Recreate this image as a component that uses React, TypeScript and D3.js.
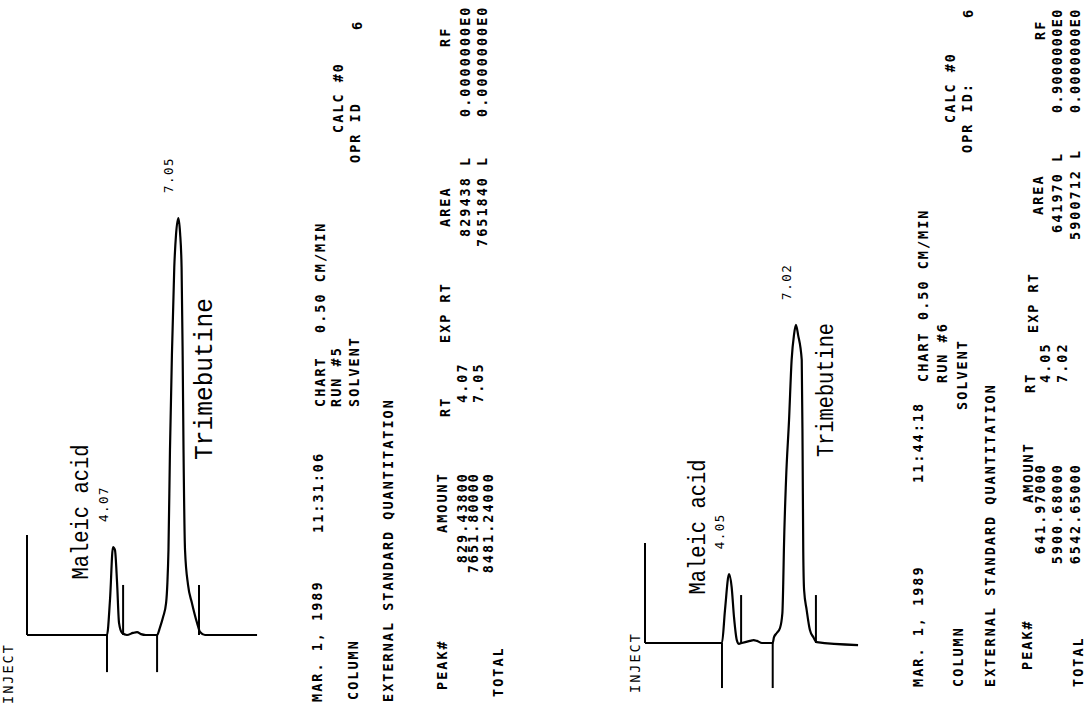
import React from "react";
import * as d3 from "d3";

// ---------------- DATA ----------------
// Run #5 trace: retention time (min) and detector signal (% of full scale)
const run1Time = [0, 3.72, 3.86, 4.0, 4.09, 4.19, 4.28, 4.42, 4.65, 4.93, 5.12, 5.3, 5.53, 6.05, 6.19, 6.33, 6.47, 6.53, 6.58, 6.65, 6.74, 6.85, 6.93, 7.04, 7.12, 7.19, 7.24, 7.28, 7.35, 7.49, 7.67, 7.91, 8.05, 8.28, 10.7];
const run1Signal = [0, 0, 8.4, 21.1, 20.4, 12.5, 2.9, 0.5, 0, 0.5, 0.7, 0.2, 0, 0, 1.9, 4.3, 7.7, 12.5, 20.4, 44.4, 67.1, 88.2, 95.9, 100, 96.4, 88.2, 67.1, 44.4, 20.4, 12.0, 7.7, 2.9, 0.7, 0, 0];
const run1DropMarks = [3.72, 6.05];
const run1EndMarks = [4.47, 8.0];
const run1MarkSizes = [24, -8.9, 12]; // inject height, drop depth, end-mark height
const run1ApexTimes = [4.0, 7.04];
const run1PeakLabels = ["4.07", "7.05"];

// Run #6 trace
const run2Time = [0, 3.58, 3.72, 3.91, 4.03, 4.14, 4.27, 4.37, 4.5, 4.88, 5.05, 5.21, 5.44, 5.94, 6.0, 6.13, 6.28, 6.39, 6.43, 6.46, 6.56, 6.7, 6.82, 6.93, 7.02, 7.12, 7.29, 7.33, 7.36, 7.4, 7.52, 7.67, 7.83, 7.99, 9.91];
const run2Signal = [0, 0, 7.9, 16.5, 13.4, 6.2, 0.7, -0.2, 0, 0.5, 0.7, 0.5, 0, 0, 1.4, 2.4, 3.6, 7.2, 14.4, 22.3, 39.1, 53.5, 67.9, 73.9, 76.3, 73.9, 67.9, 46.3, 22.3, 12.7, 7.9, 3.1, 1.4, 0.2, -0.5];
const run2DropMarks = [3.58, 5.94];
const run2EndMarks = [4.47, 7.95];
const run2MarkSizes = [24, -10.8, 11.5];
const run2ApexTimes = [3.91, 7.02];
const run2PeakLabels = ["4.05", "7.02"];

const compounds = ["Maleic acid", "Trimebutine"];
const injectLabel = "INJECT";

// Report texts
const run1Stamp = ["MAR. 1, 1989", "11:31:06", "CHART", "0.50 CM/MIN", "RUN #5", "CALC #0", "COLUMN", "SOLVENT", "OPR ID", "6"];
const run2Stamp = ["MAR. 1, 1989", "11:44:18", "CHART", "0.50 CM/MIN", "RUN #6", "CALC #0", "COLUMN", "SOLVENT", "OPR ID:", "6"];
const reportTitle = "EXTERNAL STANDARD QUANTITATION";
const tableHeaders = ["PEAK#", "AMOUNT", "RT", "EXP RT", "AREA", "RF"];
const totalLabel = "TOTAL";
const run1Amounts = ["829.43800", "7651.80000"];
const run1RTs = ["4.07", "7.05"];
const run1Areas = ["829438 L", "7651840 L"];
const run1RFs = ["0.0000000E0", "0.0000000E0"];
const run1Total = "8481.24000";
const run2Amounts = ["641.97000", "5900.68000"];
const run2RTs = ["4.05", "7.02"];
const run2Areas = ["641970 L", "5900712 L"];
const run2RFs = ["0.9000000E0", "0.0000000E0"];
const run2Total = "6542.65000";

// ---------------- LAYOUT ----------------
const MONO = "'DejaVu Sans Mono', monospace";
const SERIF_MONO = "'Liberation Mono', 'Courier New', monospace";

const panels = [
  {
    time: run1Time, signal: run1Signal, drops: run1DropMarks, ends: run1EndMarks, sizes: run1MarkSizes,
    apex: run1ApexTimes, peakLabels: run1PeakLabels,
    xRange: [27, 242], yRange: [635, 218],
    inject: [13, 704],
    names: [[88, 512, 23, 135], [212, 379, 25, 162]],
    stamp: run1Stamp,
    stampPos: [[322, 702], [323, 533], [325, 407], [325, 333], [341, 407], [343, 133], [358, 700], [359, 407], [360, 163], [362, 30]],
    titlePos: [393, 702],
    headerPos: [[447, 690], [447, 533], [450, 417], [450, 343], [450, 227], [450, 47]],
    amounts: run1Amounts, amountPos: [[467, 472], [478, 472]],
    rts: run1RTs, rtPos: [[467, 403], [483, 403]],
    areas: run1Areas, areaPos: [[470, 237], [487, 247]],
    rfs: run1RFs, rfPos: [[470, 117], [487, 117]],
    total: run1Total, totalPos: [493, 472], totalLabelPos: [503, 697],
    weight: 700,
  },
  {
    time: run2Time, signal: run2Signal, drops: run2DropMarks, ends: run2EndMarks, sizes: run2MarkSizes,
    apex: run2ApexTimes, peakLabels: run2PeakLabels,
    xRange: [645, 860], yRange: [643, 226],
    inject: [640, 693],
    names: [[705, 527, 23, 135], [833, 390, 24, 134]],
    stamp: run2Stamp,
    stampPos: [[923, 687], [923, 483], [928, 382], [928, 320], [947, 383], [955, 123], [963, 687], [967, 410], [972, 153], [973, 18]],
    titlePos: [995, 687],
    headerPos: [[1032, 670], [1033, 503], [1035, 393], [1038, 333], [1043, 215], [1045, 40]],
    amounts: run2Amounts, amountPos: [[1045, 463], [1062, 463]],
    rts: run2RTs, rtPos: [[1050, 383], [1067, 383]],
    areas: run2Areas, areaPos: [[1062, 233], [1080, 240]],
    rfs: run2RFs, rfPos: [[1062, 113], [1080, 113]], rfSpacing: 1.4,
    total: run2Total, totalPos: [1080, 463], totalLabelPos: [1083, 687],
    weight: 700,
  },
];

function VText({ x, y, text, anchor = "start", size = 13.5, weight = 700, family = MONO, spacing = 2, length }: any) {
  return (
    <text
      transform={`translate(${x},${y}) rotate(-90)`}
      textAnchor={anchor}
      fontFamily={family}
      fontSize={size}
      fontWeight={weight}
      letterSpacing={length ? undefined : spacing}
      textLength={length}
      lengthAdjust={length ? "spacingAndGlyphs" : undefined}
      fill="#000"
    >
      {text}
    </text>
  );
}

function Panel({ p }: any) {
  const xs = d3.scaleLinear().domain([0, 10]).range(p.xRange);
  const ys = d3.scaleLinear().domain([0, 100]).range(p.yRange);
  const idx = d3.range(p.time.length);
  const line = d3
    .line<number>()
    .x((i) => xs(p.time[i]))
    .y((i) => ys(p.signal[i]))
    .curve(d3.curveMonotoneX);
  const apexSignal = (t: number) => {
    const i = d3.minIndex(p.time, (v: number) => Math.abs(v - t));
    return p.signal[i];
  };
  const [injH, dropD, endH] = p.sizes;
  return (
    <g>
      {/* inject marker */}
      <line x1={xs(0)} x2={xs(0)} y1={ys(0)} y2={ys(injH)} stroke="#000" strokeWidth={2} />
      {p.drops.map((t: number, i: number) => (
        <line key={"d" + i} x1={xs(t)} x2={xs(t)} y1={ys(0)} y2={ys(dropD)} stroke="#000" strokeWidth={2} />
      ))}
      {p.ends.map((t: number, i: number) => (
        <line key={"e" + i} x1={xs(t)} x2={xs(t)} y1={ys(0)} y2={ys(endH)} stroke="#000" strokeWidth={2} />
      ))}
      <path d={line(idx) || ""} fill="none" stroke="#000" strokeWidth={2.2} strokeLinejoin="round" />
      {p.apex.map((t: number, i: number) => (
        <VText key={"pl" + i} x={xs(t) - 5} y={ys(apexSignal(t)) - 43} text={p.peakLabels[i]} anchor="middle" weight={400} size={12.5} spacing={1.5} />
      ))}
      <VText x={p.inject[0]} y={p.inject[1]} text={injectLabel} weight={400} />
      {compounds.map((c, i) => (
        <VText key={"c" + i} x={p.names[i][0]} y={p.names[i][1]} text={c} anchor="middle" family={SERIF_MONO} weight={400} size={p.names[i][2]} length={p.names[i][3]} />
      ))}
      {p.stamp.map((s: string, i: number) => (
        <VText key={"s" + i} x={p.stampPos[i][0]} y={p.stampPos[i][1]} text={s} weight={p.weight} />
      ))}
      <VText x={p.titlePos[0]} y={p.titlePos[1]} text={reportTitle} weight={p.weight} />
      {tableHeaders.map((h, i) => (
        <VText key={"h" + i} x={p.headerPos[i][0]} y={p.headerPos[i][1]} text={h} weight={p.weight} />
      ))}
      {p.amounts.map((s: string, i: number) => (
        <VText key={"a" + i} x={p.amountPos[i][0]} y={p.amountPos[i][1]} text={s} anchor="end" weight={p.weight} />
      ))}
      {p.rts.map((s: string, i: number) => (
        <VText key={"r" + i} x={p.rtPos[i][0]} y={p.rtPos[i][1]} text={s} weight={p.weight} />
      ))}
      {p.areas.map((s: string, i: number) => (
        <VText key={"ar" + i} x={p.areaPos[i][0]} y={p.areaPos[i][1]} text={s} weight={p.weight} />
      ))}
      {p.rfs.map((s: string, i: number) => (
        <VText key={"rf" + i} x={p.rfPos[i][0]} y={p.rfPos[i][1]} text={s} weight={p.weight} spacing={p.rfSpacing ?? 2} />
      ))}
      <VText x={p.totalPos[0]} y={p.totalPos[1]} text={p.total} anchor="end" weight={p.weight} />
      <VText x={p.totalLabelPos[0]} y={p.totalLabelPos[1]} text={totalLabel} weight={p.weight} />
    </g>
  );
}

export default function App() {
  return (
    <svg
      width={1090}
      height={706}
      viewBox="0 0 1090 706"
      style={{ position: "absolute", left: 0, top: 0, background: "#fff" }}
    >
      <rect width={1090} height={706} fill="#fff" />
      {panels.map((p, i) => (
        <Panel key={i} p={p} />
      ))}
    </svg>
  );
}
